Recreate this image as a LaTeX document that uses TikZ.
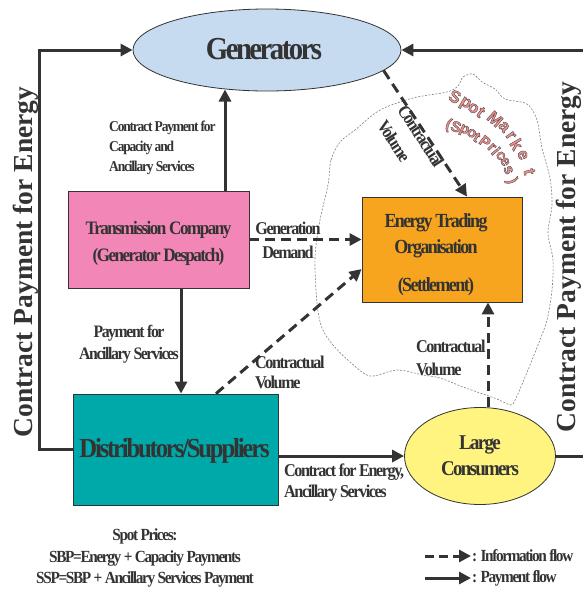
\documentclass[tikz,border=0pt]{standalone}
\usepackage{fontspec}
\setmainfont{Liberation Serif}
\newfontfamily\cf[FakeStretch=0.9,LetterSpace=-8]{Liberation Serif}
\newfontfamily\spotfont{Liberation Sans}
\usetikzlibrary{arrows.meta,calc,shapes.geometric}
\definecolor{ink}{HTML}{333333}
\definecolor{genblue}{HTML}{C6DBF0}
\definecolor{tpink}{HTML}{F287B7}
\definecolor{etorange}{HTML}{F7A51E}
\definecolor{distteal}{HTML}{00A9A9}
\definecolor{lcyellow}{HTML}{FFF480}
\definecolor{spotpink}{HTML}{F09090}
\newcommand{\fsz}[2]{\fontsize{#1}{#2}\selectfont}
\newcommand{\outl}[1]{\special{pdf:literal direct 0.25 0.25 0.25 RG 0.35 w 2 Tr}#1\special{pdf:literal direct 0 Tr}}
\begin{document}
\begin{tikzpicture}[x=1pt,y=-1pt,
 box/.style={draw=ink, line width=0.8pt, inner sep=0pt},
 pay/.style={draw=ink, line width=3pt, -{Triangle[length=12pt,width=12pt]}},
 info/.style={draw=ink, line width=3pt, dash pattern=on 10pt off 6pt, -{Triangle[length=12pt,width=12pt]}},
 lab/.style={text=ink, inner sep=0pt},
 cloud/.style={draw=gray, line width=0.6pt, dash pattern=on 2pt off 1.5pt},
 spot/.style={text=spotpink, inner sep=0pt, font=\spotfont\bfseries\fsz{17}{17}},
 spots/.style={text=spotpink, inner sep=0pt, font=\spotfont\bfseries\fsz{15}{15}},
]
\useasboundingbox (0,0) rectangle (582,590);

% spot market region
\draw[cloud] plot[smooth cycle, tension=0.5] coordinates {
(328,185) (331,160) (340,142) (355,130) (380,110) (413,98) (447,92) (458,86)
(463,77) (473,74) (482,82) (495,89) (505,99) (527,104) (537,120) (542,148)
(550,178) (552,205) (548,233) (553,260) (552,290) (547,320) (538,345) (530,365)
(523,382) (516,398) (511,405) (497,399) (480,393) (463,387) (440,378) (423,375)
(397,370) (370,376) (350,362) (333,345) (322,328) (317,303) (315,257) (320,220)};

% shapes
\node[box, ellipse, fill=genblue, minimum width=268pt, minimum height=82pt] (gen) at (267,50) {};
\node[box, fill=tpink, minimum width=181pt, minimum height=97pt] (tc) at (158.5,239.5) {};
\node[box, fill=etorange, minimum width=160pt, minimum height=105pt] (et) at (442,249.5) {};
\node[box, fill=distteal, minimum width=205pt, minimum height=111pt] (dist) at (175.5,449.5) {};
\node[box, ellipse, fill=lcyellow, minimum width=151pt, minimum height=97pt] (lc) at (480,456) {};

% texts in shapes
\node[lab, font=\cf\bfseries\fsz{32}{32}] (gent) at ($(gen)+(-3,-1)$) {Generators};
\node[lab, align=center, font=\cf\bfseries\fsz{19}{27}] (tct) at ($(tc)+(0,4)$)
      {Transmission Company\\(Generator Despatch)};
\node[lab, align=center, font=\cf\bfseries\fsz{20}{26}] (ett) at ($(et)+(-6,5)$)
      {Energy Trading\\Organisation\\[12pt](Settlement)};
\node[lab, font=\cf\bfseries\fsz{27.5}{30}] (distt) at ($(dist)+(-1,1)$) {Distributors/Suppliers};
\node[lab, align=center, font=\cf\bfseries\fsz{21}{26}] (lct) at (lc) {Large\\Consumers};

% helper coordinates
\coordinate (g1) at (225,89.5);
\coordinate (x181) at (181,0);
\coordinate (x216) at (216,0);
\coordinate (y269) at (0,269);
\coordinate (x488) at (488,0);
\coordinate (y456) at (0,456);
\coordinate (ettop) at (467,0);

% payment flows
\draw[pay] (tc.north -| g1) -- (g1);
\draw[pay] (tc.south -| x181) -- (dist.north -| x181);
\draw[pay] (dist.east |- y456) -- (lc.west);
\draw[pay] (dist.west) -- ++(-33,0) |- (gen.west);
\draw[pay] (lc.east) -- ++(30,0) |- (gen.east);

% information flows
\draw[info] (tc.east) -- (tc.east -| et.west);
\draw[info] (dist.north -| x216) -- (et.west |- y269);
\draw[info] (lc.north -| x488) -- (et.south -| x488);
\draw[info] (gen.-10) -- (et.north -| ettop);

% labels
\node[lab, anchor=west, align=left, font=\cf\bfseries\fsz{15}{20}] (l1) at (109,148)
  {Contract Payment for\\Capacity and\\Ancillary Services};
\node[lab, align=center, font=\cf\bfseries\fsz{17.5}{22}] (l2) at (129,344)
  {Payment for\\Ancillary Services};
\node[lab, align=center, font=\cf\bfseries\fsz{18}{24}] (l3) at (288,240)
  {Generation\\Demand};
\node[lab, anchor=west, align=left, font=\cf\bfseries\fsz{18}{20}] (l4) at (255,372)
  {Contractual\\Volume};
\node[lab, anchor=west, align=left, font=\cf\bfseries\fsz{18}{23}] (l5) at (416,358)
  {Contractual\\Volume};
\node[lab, anchor=west, align=left, font=\cf\bfseries\fsz{18}{21}] (l6) at (284,483)
  {Contract for Energy,\\Ancillary Services};
\node[lab, rotate=-57, font=\cf\bfseries\fsz{18}{18}] (l7) at (421,136) {Contractual};
\node[lab, rotate=-57, font=\cf\bfseries\fsz{18}{18}] (l8) at (394,141) {Volume};

\node[lab, rotate=90, font=\bfseries\fsz{27.5}{30}] (sideL) at (26,262) {Contract Payment for Energy};
\node[lab, rotate=90, font=\bfseries\fsz{27.5}{30}] (sideR) at (569,257) {Contract Payment for Energy};

\node[lab, align=center, font=\cf\bfseries\fsz{17}{21.5}] (sp) at (145,558)
  {Spot Prices:\\SBP=Energy + Capacity Payments\\SSP=SBP + Ancillary Services Payment};

% legend
\coordinate (li1) at (425,556);
\coordinate (li2) at (471,556);
\coordinate (lp1) at (425,578);
\coordinate (lp2) at (471,578);
\draw[info, dash pattern=on 9pt off 5pt] (li1) -- (li2);
\draw[pay] (lp1) -- (lp2);
\node[lab, anchor=west, font=\cf\bfseries\fsz{17}{17}] (leg1) at (472,556) {: Information flow};
\node[lab, anchor=west, font=\cf\bfseries\fsz{17}{17}] (leg2) at (472,578) {: Payment flow};

% spot market lettering
\foreach \ch/\px/\py/\rt in {S/455/96.7/-28, p/465/104/-30, o/473.3/108.3/-33,
  t/480.7/112.3/-37, M/495/119/-42, a/504/126.7/-50, r/510.7/135.7/-55,
  k/516.7/144.3/-60, e/522.7/155/-68, t/529.3/171.7/-78}
  \node[spot, rotate=\rt] at (\px,\py) {\outl{\ch}};
\node[spots, rotate=-20] (pl) at (448.3,125) {\outl{(}};
\foreach \ch/\px/\py/\rt in {S/456/126.7/-22, p/464/130.7/-25, o/471.7/133.3/-28,
  t/476.7/137.3/-32, P/485/141.7/-38, r/491.7/147.3/-45, i/496/151/-50,
  c/500.7/155.7/-55, e/505/161.7/-60, s/508.3/170/-65}
  \node[spots, rotate=\rt] at (\px,\py) {\outl{\ch}};
\node[spots, rotate=-70] (pr) at (511.7,181) {\outl{)}};
\end{tikzpicture}
\end{document}
